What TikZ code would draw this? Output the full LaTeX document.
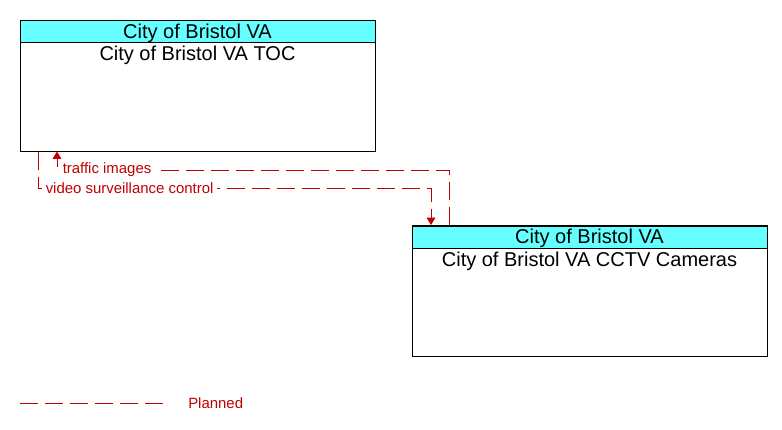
\documentclass[tikz,border=0pt]{standalone}
\usepackage{fontspec}
\setmainfont{Liberation Sans}
\usetikzlibrary{arrows.meta}
\definecolor{flowred}{RGB}{192,0,0}
\definecolor{headcyan}{RGB}{102,255,255}

\begin{document}
\begin{tikzpicture}[x=0.75pt, y=-0.75pt,
    element/.style = {draw, line width=0.75pt, minimum width=266.25pt, minimum height=98.25pt, inner sep=0pt},
    header/.style = {draw, line width=0.75pt, fill=headcyan, minimum width=266.25pt, minimum height=16.5pt, inner sep=0pt, font=\fontsize{15}{15}\selectfont},
    title/.style = {font=\fontsize{15}{15}\selectfont, inner sep=0pt},
    flow/.style = {draw=flowred, line width=0.75pt, dash pattern=on 13.5pt off 5.25pt},
    flowlabel/.style = {text=flowred, fill=white, inner xsep=3pt, inner ysep=1.5pt, font=\fontsize{11.2}{12}\selectfont},
    tip/.style = {-{Triangle[width=6.5pt, length=5.5pt]}}]
    \useasboundingbox (0,0) rectangle (782,429);

    % elements
    \node[element] (toc) at (197.5, 85.5) {};
    \node[header, anchor=north, text depth=1pt, yshift=-0.5pt] (tochead) at (toc.north) {City of Bristol VA};
    \node[title] (toctitle) at (197.5, 55.5) {City of Bristol VA TOC};

    \node[element] (cctv) at (589.5, 291) {};
    \node[header, anchor=north, text depth=1pt, yshift=-0.5pt] (cctvhead) at (cctv.north) {City of Bristol VA};
    \node[title] (cctvtitle) at (589.5, 261.5) {City of Bristol VA CCTV Cameras};

    % flows
    \coordinate (ti1) at (449, 170);
    \coordinate (ti2) at (57, 170);
    \draw[flow, tip] (cctv.north -| ti1) -- (ti1) -- (ti2) -- (toc.south -| ti2);
    \node[flowlabel, anchor=west] (tilabel) at (58.5, 170) {traffic images};

    \coordinate (vs1) at (38, 188);
    \coordinate (vs2) at (431, 188);
    \draw[flow, tip] (toc.south -| vs1) -- (vs1) -- (vs2) -- (cctv.north -| vs2);
    \node[flowlabel, anchor=west] (vslabel) at (41.5, 188) {video surveillance control};

    % legend
    \coordinate (lg1) at (20, 403);
    \coordinate (lg2) at (170, 403);
    \draw[flow] (lg1) -- (lg2);
    \node[text=flowred, anchor=west, inner sep=0pt, font=\fontsize{11.2}{12}\selectfont] (planned) at (188, 403) {Planned};
\end{tikzpicture}
\end{document}
